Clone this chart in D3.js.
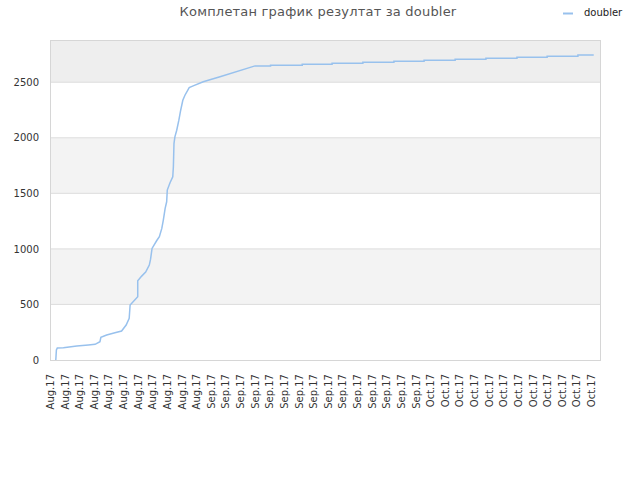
<!DOCTYPE html>
<html>
<head>
<meta charset="utf-8">
<script src="https://cdn.jsdelivr.net/npm/d3@7"></script>
<style>
  body { margin: 0; background: #fff; }
  svg { font-family: "DejaVu Sans", sans-serif; }
</style>
</head>
<body>
<svg id="chart"></svg>
<script>
const width = 640;
const height = 480;

const title = "Комплетан график резултат за doubler";
const seriesName = "doubler";

// points (date, cumulative result)
const dates = [
  "2017-08-11 19:00", "2017-08-11 21:00", "2017-08-12 00:00", "2017-08-12 20:00",
  "2017-08-14 16:00", "2017-08-16 06:00", "2017-08-17 04:00", "2017-08-17 20:00",
  "2017-08-17 23:00", "2017-08-18 18:00", "2017-08-19 21:00", "2017-08-20 19:00",
  "2017-08-21 10:00", "2017-08-21 20:00", "2017-08-21 23:00", "2017-08-23 00:00",
  "2017-08-23 00:00", "2017-08-23 13:00", "2017-08-24 02:00", "2017-08-24 14:00",
  "2017-08-24 18:00", "2017-08-24 23:00", "2017-08-25 14:00", "2017-08-25 23:00",
  "2017-08-26 07:00", "2017-08-26 12:00", "2017-08-26 18:00", "2017-08-26 23:00",
  "2017-08-27 01:00", "2017-08-27 10:00", "2017-08-27 19:00", "2017-08-27 21:00",
  "2017-08-27 23:00", "2017-08-28 02:00", "2017-08-28 08:00", "2017-08-28 15:00",
  "2017-08-28 21:00", "2017-08-29 04:00", "2017-08-29 11:00", "2017-08-30 01:00",
  "2017-08-30 14:00", "2017-08-31 23:00", "2017-09-03 06:00", "2017-09-08 01:00",
  "2017-09-10 04:00", "2017-09-10 04:00", "2017-09-14 12:00", "2017-09-14 12:00",
  "2017-09-18 14:00", "2017-09-18 14:00", "2017-09-22 19:00", "2017-09-22 19:00",
  "2017-09-27 01:00", "2017-09-27 01:00", "2017-10-01 04:00", "2017-10-01 04:00",
  "2017-10-05 10:00", "2017-10-05 10:00", "2017-10-09 15:00", "2017-10-09 15:00",
  "2017-10-13 21:00", "2017-10-13 21:00", "2017-10-18 00:00", "2017-10-18 00:00",
  "2017-10-22 05:00", "2017-10-22 05:00", "2017-10-24 09:00"
];
const values = [
  0, 90, 108, 110,
  126, 135, 141, 165,
  204, 225, 245, 261,
  315, 375, 495, 570,
  713, 755, 791, 854,
  905, 1004, 1073, 1109,
  1184, 1259, 1364, 1424,
  1529, 1595, 1649, 1739,
  1948, 2009, 2068, 2158,
  2248, 2338, 2383, 2452,
  2467, 2504, 2549, 2647,
  2647, 2653, 2653, 2662,
  2662, 2671, 2671, 2680,
  2680, 2689, 2689, 2698,
  2698, 2707, 2707, 2716,
  2716, 2725, 2725, 2734,
  2734, 2746, 2746
];

const yTicks = [0, 500, 1000, 1500, 2000, 2500];
const xStart = "2017-08-11 00:00";
const xEnd = "2017-10-25 05:30";

const parse = d3.timeParse("%Y-%m-%d %H:%M");
const data = dates.map((d, i) => ({ date: parse(d), value: values[i] }));

const margin = { top: 40, right: 40, bottom: 120, left: 50 };
const innerWidth = width - margin.left - margin.right;
const innerHeight = height - margin.top - margin.bottom;

const svg = d3.select("#chart")
  .attr("width", width)
  .attr("height", height);

const x = d3.scaleTime()
  .domain([parse(xStart), parse(xEnd)])
  .range([0, innerWidth]);

const y = d3.scaleLinear()
  .domain([0, 2880])
  .range([innerHeight, 0]);

const g = svg.append("g")
  .attr("transform", `translate(${margin.left},${margin.top})`);

// alternating bands
const bands = yTicks.map((t, i) => ({
  from: t,
  to: i < yTicks.length - 1 ? yTicks[i + 1] : y.domain()[1],
  i: i
}));

g.selectAll(".band")
  .data(bands)
  .join("rect")
  .attr("class", "band")
  .attr("x", 0)
  .attr("width", innerWidth)
  .attr("y", d => y(d.to))
  .attr("height", d => y(d.from) - y(d.to))
  .attr("fill", d => d.i === 5 ? "#eeeeee" : (d.i % 2 === 1 ? "#f3f3f3" : "#ffffff"));

// grid lines
g.selectAll(".grid")
  .data(yTicks.slice(1))
  .join("line")
  .attr("class", "grid")
  .attr("x1", 0)
  .attr("x2", innerWidth)
  .attr("y1", d => y(d))
  .attr("y2", d => y(d))
  .attr("stroke", "#dddddd");

// frame
g.append("rect")
  .attr("x", 0.5)
  .attr("y", 0.5)
  .attr("width", innerWidth)
  .attr("height", innerHeight)
  .attr("fill", "none")
  .attr("stroke", "#d6d6d6");

// Axe vertical
g.append("g")
  .attr("class", "y-axis")
  .call(d3.axisLeft(y).tickValues(yTicks).tickFormat(d3.format("d")).tickSize(0).tickPadding(11))
  .attr("font-family", null)
  .call(a => a.select(".domain").remove())
  .selectAll("text")
  .attr("font-size", 10)
  .attr("fill", "#333");

// Axe horizontal
const xTicks = d3.timeDay.range(parse(xStart), parse("2017-10-25 00:00"), 2);
g.append("g")
  .attr("class", "x-axis")
  .attr("transform", `translate(0,${innerHeight})`)
  .call(d3.axisBottom(x).tickValues(xTicks).tickFormat(d3.timeFormat("%b.%y")).tickSize(0))
  .attr("font-family", null)
  .call(a => a.select(".domain").remove())
  .selectAll("text")
  .attr("font-size", 10)
  .attr("fill", "#333")
  .attr("text-anchor", "end")
  .attr("transform", "rotate(-90)")
  .attr("x", -14)
  .attr("y", 0)
  .attr("dy", "0.35em");

// series line
const line = d3.line()
  .x(d => x(d.date))
  .y(d => y(d.value));

g.append("path")
  .datum(data)
  .attr("fill", "none")
  .attr("stroke", "#98c1ed")
  .attr("stroke-width", 1.5)
  .attr("d", line);

// title
svg.append("text")
  .attr("x", 318)
  .attr("y", 16)
  .attr("text-anchor", "middle")
  .attr("font-size", 13)
  .attr("letter-spacing", 0.2)
  .attr("fill", "#555")
  .text(title);

// legend
svg.append("line")
  .attr("x1", 563)
  .attr("x2", 573)
  .attr("y1", 13.5)
  .attr("y2", 13.5)
  .attr("stroke", "#98c1ed")
  .attr("stroke-width", 2);

svg.append("text")
  .attr("x", 584)
  .attr("y", 16)
  .attr("font-size", 10)
  .attr("fill", "#222")
  .text(seriesName);
</script>
</body>
</html>
